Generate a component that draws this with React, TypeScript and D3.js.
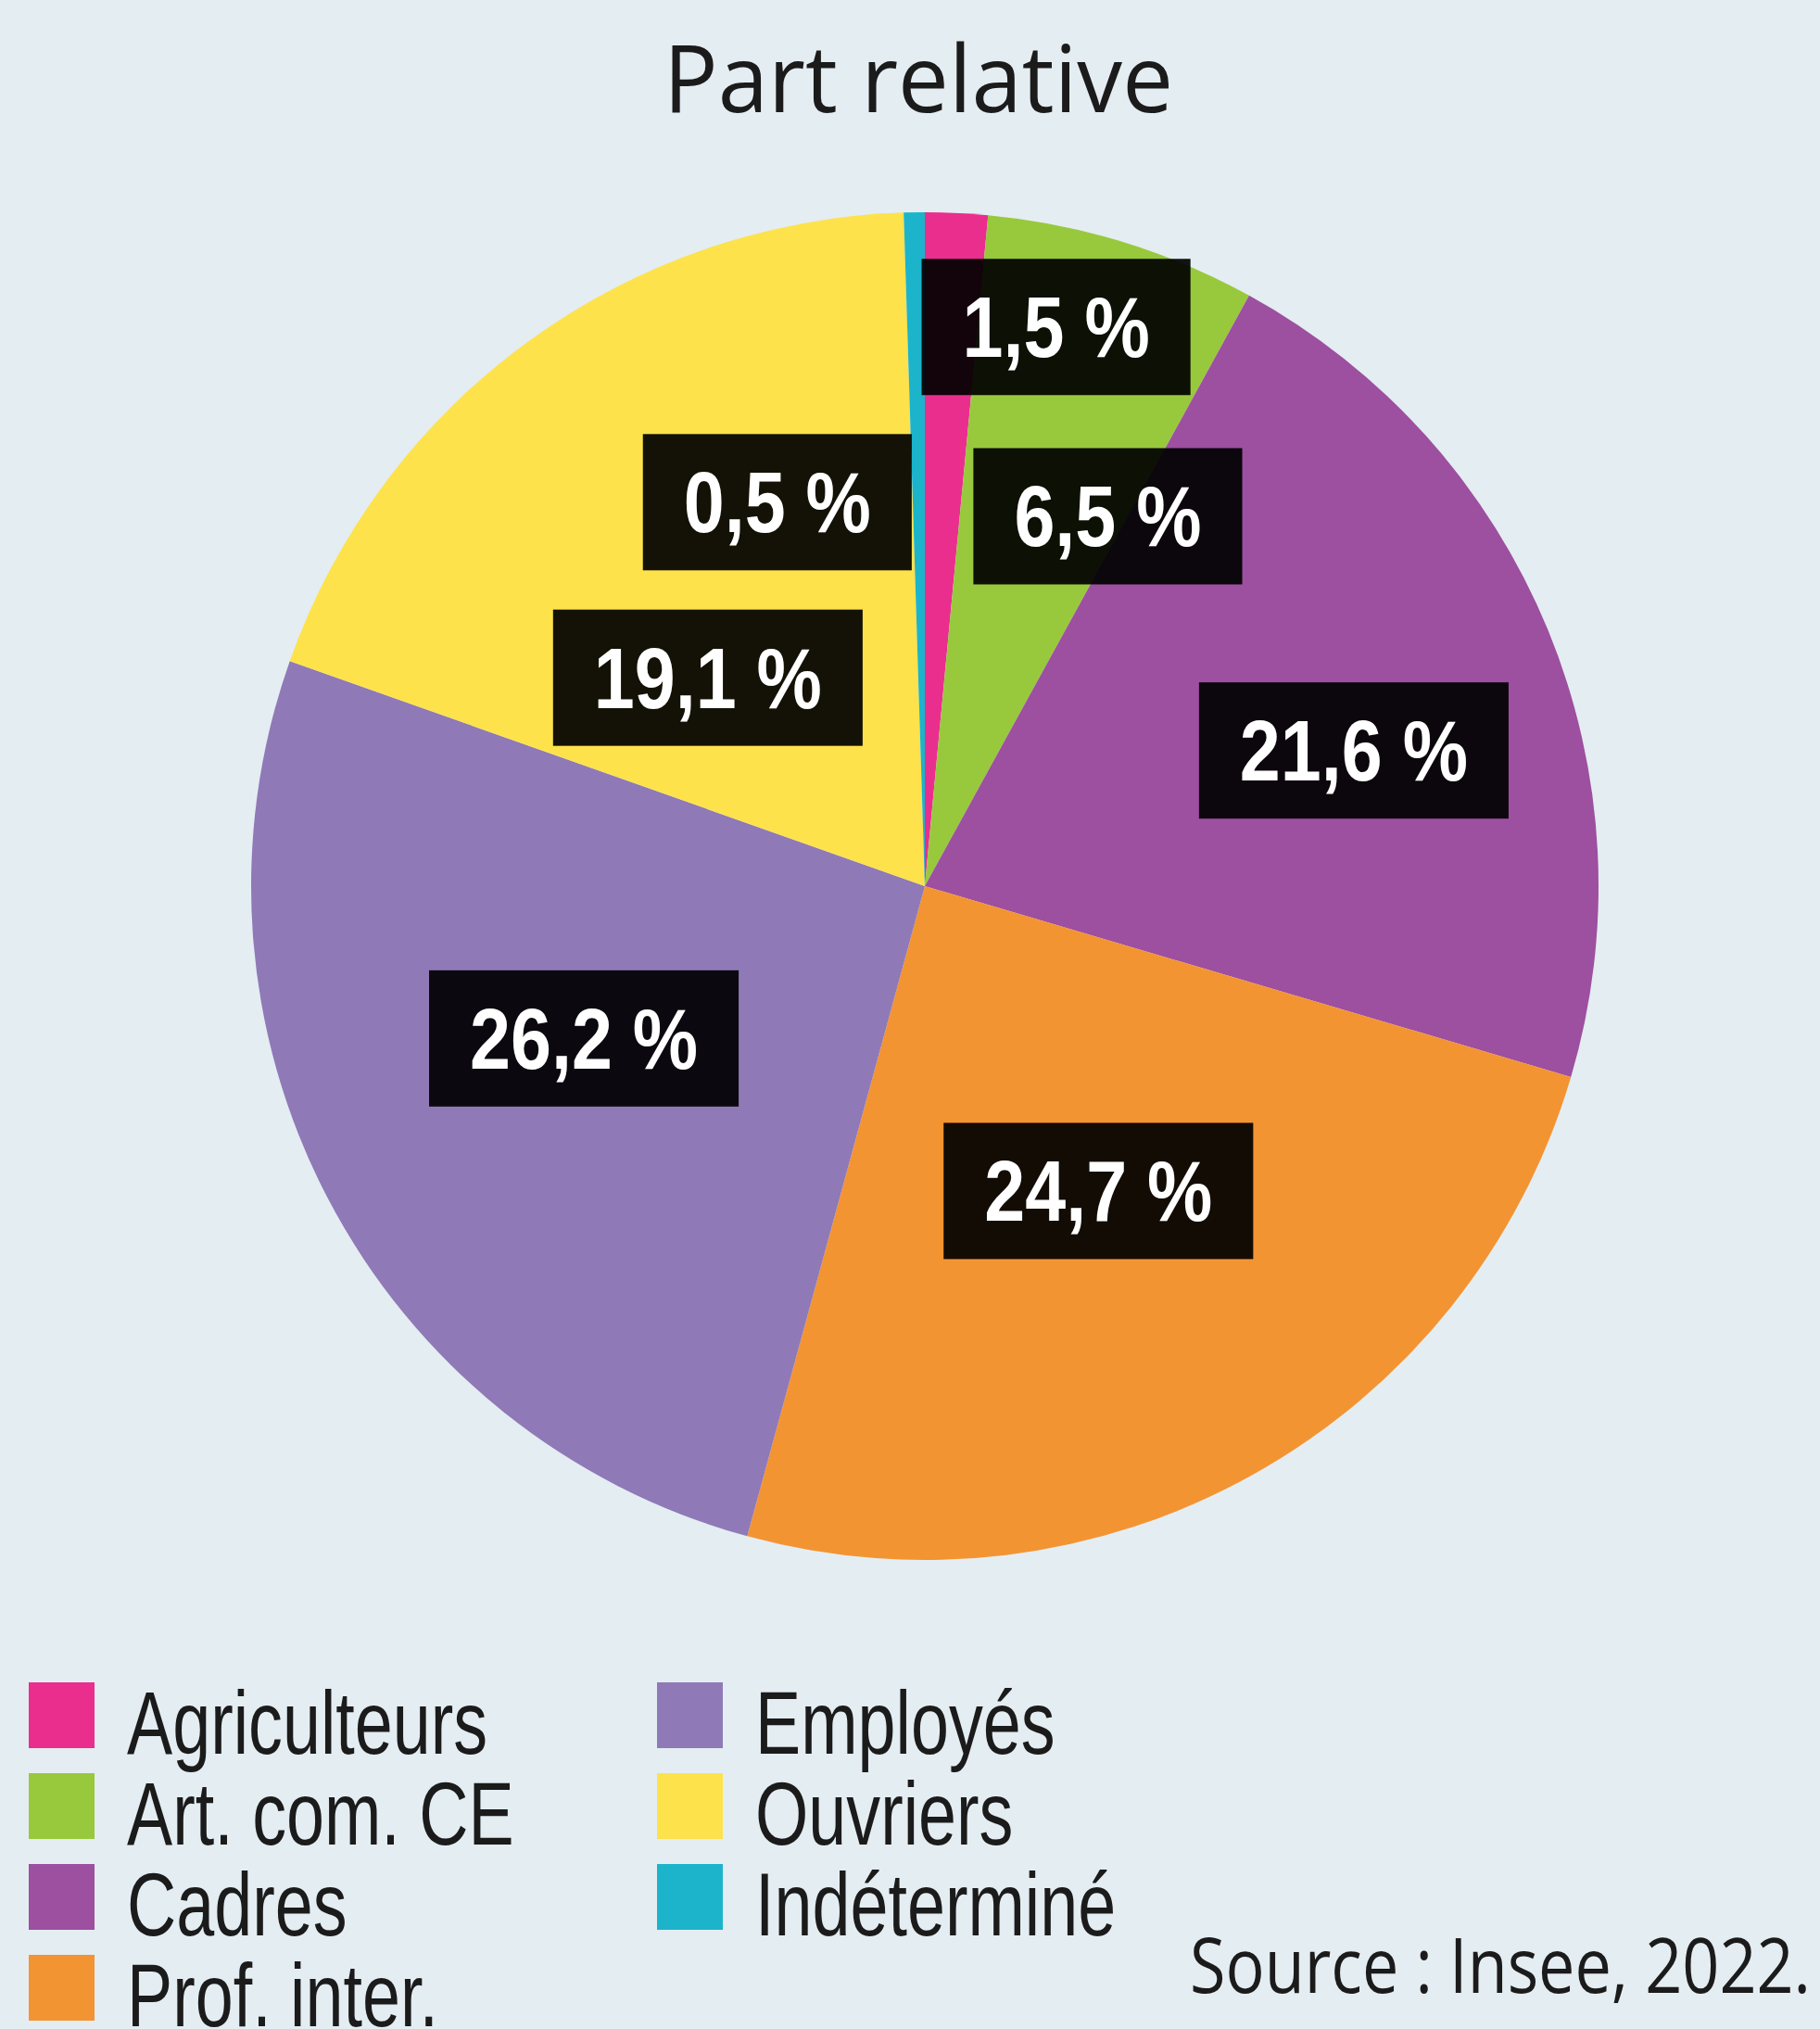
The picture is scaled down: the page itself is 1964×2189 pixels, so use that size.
import React, { useEffect, useRef } from "react";
import * as d3 from "d3";

const categories = ["Agriculteurs", "Art. com. CE", "Cadres", "Prof. inter.", "Employés", "Ouvriers", "Indéterminé"];
const values = [1.5, 6.5, 21.6, 24.7, 26.2, 19.1, 0.5];
const colors = ["#ea2e8e", "#98c93d", "#9d4fa0", "#f39433", "#8f79b7", "#fde24c", "#1bb4cb"];
// label placement: angle (deg, clockwise from 12 o'clock) and radial fraction
const labelAngles = [13.2, 26.3, 72.4, 150.3, 246, 313.9, 339];
const labelRadii = [0.853, 0.613, 0.668, 0.52, 0.554, 0.447, 0.611];

const W = 1964;
const H = 2189;

export default function App() {
  const ref = useRef<SVGSVGElement>(null);
  useEffect(() => {
    const svg = d3.select(ref.current);
    svg.selectAll("*").remove();
    svg.append("rect").attr("width", W).attr("height", H).attr("fill", "#e4edf2");

    svg.append("text")
      .attr("x", 991).attr("y", 121)
      .attr("text-anchor", "middle")
      .attr("font-family", "'Open Sans', 'Noto Sans', sans-serif")
      .attr("font-size", 101)
      .attr("fill", "#1b1b1b")
      .attr("textLength", 550)
      .attr("lengthAdjust", "spacingAndGlyphs")
      .text("Part relative");

    const cx = 998, cy = 956, R = 727;
    const data = categories.map((c, i) => ({ c, v: values[i], color: colors[i], i }));
    const pie = d3.pie<any>().sort(null).value((d: any) => d.v);
    const arc = d3.arc<any>().innerRadius(0).outerRadius(R);
    const g = svg.append("g").attr("transform", `translate(${cx},${cy})`);
    const arcs = pie(data);
    g.selectAll("path.slice").data(arcs).enter().append("path")
      .attr("class", "slice")
      .attr("d", arc as any)
      .attr("fill", (d: any) => d.data.color);

    const fmt = (v: number) => d3.format(".1f")(v).replace(".", ",") + " %";
    const font = "'Liberation Sans', Arial, sans-serif";
    const labScale = 0.85;
    arcs.forEach((d: any, i: number) => {
      const a = (labelAngles[i] * Math.PI) / 180;
      const r = labelRadii[i] * R;
      const x = Math.sin(a) * r;
      const y = -Math.cos(a) * r;
      const lg = g.append("g").attr("transform", `translate(${x},${y})`);
      const rect = lg.append("rect").attr("fill", "#000").attr("opacity", 0.92);
      const t = lg.append("text")
        .attr("text-anchor", "middle")
        .attr("transform", `translate(0,33) scale(${labScale},1)`)
        .attr("font-family", font)
        .attr("font-weight", "bold")
        .attr("font-size", 93)
        .attr("fill", "#fff")
        .text(fmt(values[i]));
      const tw = (t.node() as SVGTextElement).getComputedTextLength() * labScale;
      const bw = tw + 88;
      rect.attr("x", -bw / 2).attr("y", -73).attr("width", bw).attr("height", 147);
    });

    const leg = svg.append("g");
    categories.forEach((c, i) => {
      const col = Math.floor(i / 4);
      const row = i % 4;
      const x0 = col === 0 ? 31 : 709;
      const y0 = 1815 + row * 98;
      leg.append("rect").attr("x", x0).attr("y", y0).attr("width", 71).attr("height", 71).attr("fill", colors[i]);
      leg.append("text")
        .attr("transform", `translate(${x0 + 106},${y0 + 77}) scale(0.76,1)`)
        .attr("font-family", font)
        .attr("font-size", 97)
        .attr("fill", "#1b1b1b")
        .text(c);
    });

    svg.append("text")
      .attr("x", 1954).attr("y", 2150)
      .attr("text-anchor", "end")
      .attr("font-family", "'Open Sans', 'Noto Sans', sans-serif")
      .attr("font-size", 82)
      .attr("fill", "#1b1b1b")
      .attr("textLength", 670)
      .attr("lengthAdjust", "spacingAndGlyphs")
      .text("Source : Insee, 2022.");
  }, []);
  return (
    <svg ref={ref} width={W} height={H} style={{ position: "absolute", left: 0, top: 0, display: "block" }} />
  );
}
